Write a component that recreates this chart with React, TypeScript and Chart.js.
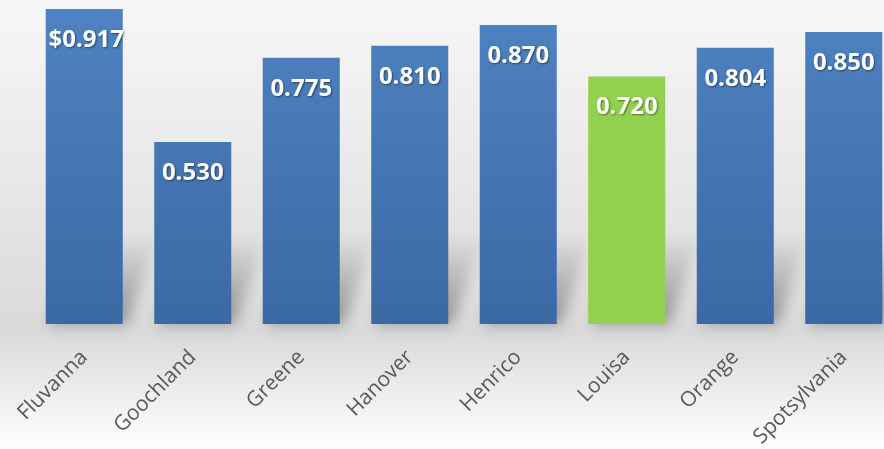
import React, { useEffect, useRef } from "react";
import { Chart, registerables } from "chart.js";

Chart.register(...registerables);

const categories = ["Fluvanna", "Goochland", "Greene", "Hanover", "Henrico", "Louisa", "Orange", "Spotsylvania"];
const values = [0.917, 0.53, 0.775, 0.81, 0.87, 0.72, 0.804, 0.85];
const valueLabels = ["$0.917", "0.530", "0.775", "0.810", "0.870", "0.720", "0.804", "0.850"];
const highlightIndex = 5;

const shadowPlugin = {
  id: "floorShadow",
  beforeDatasetsDraw(chart: any) {
    const ctx = chart.ctx;
    const meta = chart.getDatasetMeta(0);
    ctx.save();
    ctx.filter = "blur(7px)";
    meta.data.forEach((bar: any) => {
      const p = bar.getProps(["x", "y", "base", "width"], true);
      const l = p.x - p.width / 2;
      const r = p.x + p.width / 2;
      const b = p.base;
      const h = Math.min(90, b - p.y);
      const g = ctx.createLinearGradient(0, b, 0, b - h);
      g.addColorStop(0, "rgba(0,0,0,0.34)");
      g.addColorStop(1, "rgba(0,0,0,0)");
      ctx.fillStyle = g;
      ctx.beginPath();
      ctx.moveTo(l + 4, b);
      ctx.lineTo(r + 4, b);
      ctx.lineTo(r + 34, b - h);
      ctx.lineTo(l + 34, b - h);
      ctx.closePath();
      ctx.fill();
    });
    ctx.restore();
  },
};

const labelPlugin = {
  id: "valueLabels",
  afterDatasetsDraw(chart: any) {
    const ctx = chart.ctx;
    const meta = chart.getDatasetMeta(0);
    ctx.save();
    ctx.font = "bold 24px 'Open Sans', sans-serif";
    ctx.textAlign = "center";
    ctx.textBaseline = "middle";
    ctx.fillStyle = "#ffffff";
    ctx.shadowColor = "rgba(0,0,0,0.45)";
    ctx.shadowBlur = 2;
    ctx.shadowOffsetX = 1;
    ctx.shadowOffsetY = 1;
    meta.data.forEach((bar: any, i: number) => {
      const p = bar.getProps(["x", "y"], true);
      ctx.fillText(valueLabels[i], p.x + (i === 0 ? 2 : 0), p.y + 31);
    });
    ctx.restore();
  },
};

export default function App() {
  const ref = useRef<HTMLCanvasElement | null>(null);

  useEffect(() => {
    if (!ref.current) return;
    const chart = new Chart(ref.current, {
      type: "bar",
      data: {
        labels: categories,
        datasets: [
          {
            data: values,
            backgroundColor: (c: any) => {
              if (c.dataIndex === highlightIndex) return "#92d050";
              const area = c.chart.chartArea;
              if (!area) return "#4a7ebb";
              const g = c.chart.ctx.createLinearGradient(0, area.top, 0, area.bottom);
              g.addColorStop(0, "#4f83c2");
              g.addColorStop(1, "#3b69a4");
              return g;
            },
            borderWidth: 0,
            categoryPercentage: 1,
            barPercentage: 0.71,
          },
        ],
      },
      options: {
        animation: false,
        responsive: false,
        maintainAspectRatio: false,
        layout: { padding: { left: 30, right: 2, top: 0, bottom: 0 } },
        plugins: { legend: { display: false }, tooltip: { enabled: false } },
        scales: {
          y: { display: false, min: 0, max: 0.943 },
          x: {
            grid: { display: false },
            border: { display: false },
            ticks: {
              minRotation: 45,
              maxRotation: 45,
              autoSkip: false,
              color: "#595959",
              padding: 13,
              font: { family: "'Open Sans', sans-serif", size: 21 },
            },
            afterFit: (s: any) => {
              s.paddingLeft = 0;
              s.paddingRight = 0;
              s.height = 125;
            },
          },
        },
      },
      plugins: [shadowPlugin, labelPlugin],
    });
    return () => chart.destroy();
  }, []);

  return (
    <div
      style={{
        position: "fixed",
        left: 0,
        top: 0,
        width: 884,
        height: 449,
        overflow: "hidden",
        background: "linear-gradient(to bottom, #f7f7f7 0%, #e6e6e6 45%, #d9d9d9 74%, #f4f4f4 92%, #ffffff 100%)",
      }}
    >
      <canvas ref={ref} width={900} height={449} style={{ display: "block", width: 900, height: 449 }} />
    </div>
  );
}
